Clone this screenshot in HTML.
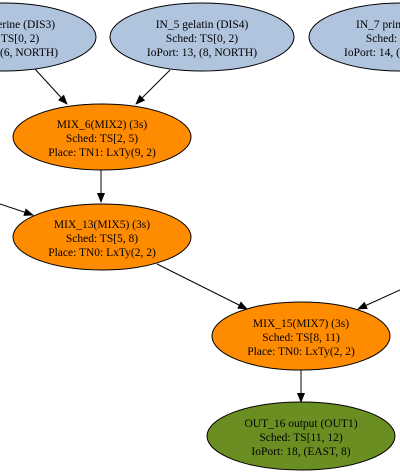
<!DOCTYPE html>
<html><head><meta charset="utf-8"><style>
html,body{margin:0;padding:0;background:#fff;width:400px;height:475px;overflow:hidden}
text{font-family:"Liberation Serif",serif;font-size:11.5px;fill:#000}
</style></head><body>
<svg width="400" height="475" viewBox="0 0 400 475" xmlns="http://www.w3.org/2000/svg">
<defs><marker id="a" markerWidth="10" markerHeight="8" refX="9" refY="4" orient="auto" markerUnits="userSpaceOnUse"><path d="M0,0 L10,4 L0,8 Z" fill="#000"/></marker></defs>
<g stroke="#000" stroke-width="1" fill="none">
<line x1="35" y1="69" x2="67" y2="104" marker-end="url(#a)"/>
<line x1="170" y1="70" x2="136" y2="104" marker-end="url(#a)"/>
<line x1="101" y1="170" x2="101" y2="202" marker-end="url(#a)"/>
<line x1="0" y1="204" x2="33" y2="215" marker-end="url(#a)"/>
<line x1="157" y1="264" x2="247" y2="309" marker-end="url(#a)"/>
<line x1="400" y1="290" x2="358" y2="309" marker-end="url(#a)"/>
<line x1="301" y1="370" x2="301" y2="402" marker-end="url(#a)"/>
</g>
<g stroke="#000" stroke-width="1">
<ellipse cx="3" cy="37" rx="93" ry="34" fill="#b0c4de"/>
<ellipse cx="202" cy="37" rx="92" ry="34" fill="#b0c4de"/>
<ellipse cx="402" cy="37" rx="93" ry="34" fill="#b0c4de"/>
<ellipse cx="102" cy="137" rx="89" ry="33" fill="#ff8c00"/>
<ellipse cx="102" cy="237" rx="89" ry="33" fill="#ff8c00"/>
<ellipse cx="301" cy="336" rx="89" ry="34" fill="#ff8c00"/>
<ellipse cx="301" cy="436" rx="94" ry="34" fill="#6b8e23"/>
</g>
<g text-anchor="middle">
<text x="3" y="28">IN_4 glycerine (DIS3)</text><text x="3" y="42">Sched: TS[0, 2)</text><text x="3" y="56">IoPort: 12, (6, NORTH)</text>
<text x="202" y="28">IN_5 gelatin (DIS4)</text><text x="202" y="42">Sched: TS[0, 2)</text><text x="202" y="56">IoPort: 13, (8, NORTH)</text>
<text x="402" y="28">IN_7 primer (DIS5)</text><text x="402" y="42">Sched: TS[0, 2)</text><text x="402" y="56">IoPort: 14, (10, NORTH)</text>
<text x="102" y="128">MIX_6(MIX2) (3s)</text><text x="102" y="142">Sched: TS[2, 5)</text><text x="102" y="156">Place: TN1: LxTy(9, 2)</text>
<text x="102" y="228">MIX_13(MIX5) (3s)</text><text x="102" y="242">Sched: TS[5, 8)</text><text x="102" y="256">Place: TN0: LxTy(2, 2)</text>
<text x="301" y="327">MIX_15(MIX7) (3s)</text><text x="301" y="341">Sched: TS[8, 11)</text><text x="301" y="355">Place: TN0: LxTy(2, 2)</text>
<text x="301" y="427">OUT_16 output (OUT1)</text><text x="301" y="441">Sched: TS[11, 12)</text><text x="301" y="455">IoPort: 18, (EAST, 8)</text>
</g>
</svg>
</body></html>
